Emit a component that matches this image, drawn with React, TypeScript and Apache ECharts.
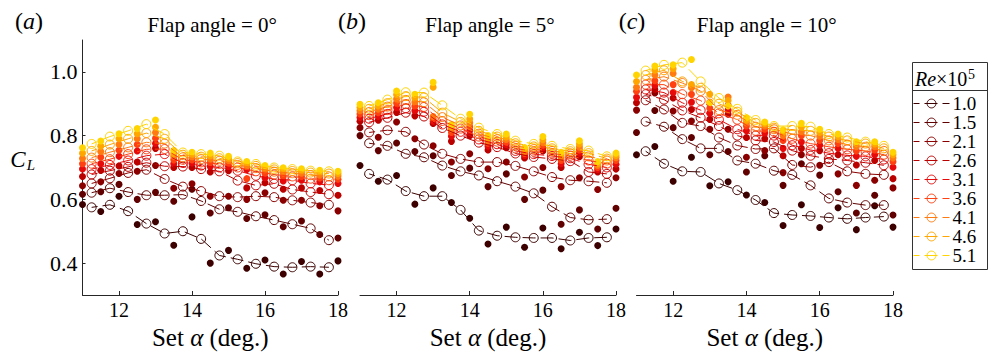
import React, { useEffect, useRef } from 'react';
import * as echarts from 'echarts';

const ALPHA_FILLED = [11, 11.5, 12, 12.5, 13, 13.5, 14, 14.5, 15, 15.5, 16, 16.5, 17, 17.5, 18];
const ALPHA_OPEN = [11.25, 11.75, 12.25, 12.75, 13.25, 13.75, 14.25, 14.75, 15.25, 15.75, 16.25, 16.75, 17.25, 17.75];
const RE_LABELS = ['1.0', '1.5', '2.1', '2.6', '3.1', '3.6', '4.1', '4.6', '5.1'];
const RE_COLORS = ['#3c0000', '#600000', '#8a0000', '#bb0000', '#e60a0a', '#ff4010', '#ff7a10', '#ffa600', '#ffd400'];
const PANEL_TITLES = ['Flap angle = 0°', 'Flap angle = 5°', 'Flap angle = 10°'];
const PANEL_TAGS = ['a', 'b', 'c'];
const X_TICKS = [12, 14, 16, 18];
const Y_TICKS = [0.4, 0.6, 0.8, 1.0];

// Panel (a) flap 0°, filled markers
const A_F_10 = [0.584, 0.562, 0.610, 0.521, 0.530, 0.456, 0.545, 0.400, 0.440, 0.384, 0.410, 0.366, 0.405, 0.366, 0.407];
const A_F_15 = [0.616, 0.624, 0.647, 0.600, 0.622, 0.594, 0.632, 0.557, 0.574, 0.540, 0.552, 0.514, 0.532, 0.490, 0.479];
const A_F_21 = [0.643, 0.655, 0.681, 0.688, 0.706, 0.635, 0.649, 0.610, 0.610, 0.600, 0.621, 0.597, 0.597, 0.580, 0.564];
const A_F_26 = [0.672, 0.691, 0.705, 0.717, 0.760, 0.700, 0.700, 0.686, 0.690, 0.636, 0.652, 0.632, 0.636, 0.628, 0.613];
const A_F_31 = [0.695, 0.712, 0.735, 0.752, 0.775, 0.712, 0.714, 0.703, 0.703, 0.694, 0.668, 0.658, 0.660, 0.655, 0.650];
const A_F_36 = [0.712, 0.732, 0.754, 0.772, 0.792, 0.724, 0.724, 0.715, 0.714, 0.665, 0.682, 0.672, 0.672, 0.667, 0.663];
const A_F_41 = [0.728, 0.750, 0.772, 0.790, 0.810, 0.735, 0.733, 0.726, 0.722, 0.703, 0.692, 0.683, 0.682, 0.676, 0.673];
const A_F_46 = [0.745, 0.767, 0.790, 0.806, 0.826, 0.744, 0.741, 0.736, 0.729, 0.712, 0.700, 0.692, 0.690, 0.684, 0.681];
const A_F_51 = [0.762, 0.783, 0.806, 0.822, 0.849, 0.753, 0.748, 0.745, 0.735, 0.719, 0.706, 0.699, 0.696, 0.691, 0.688];
// Panel (a) open markers
const A_O_10 = [0.575, 0.583, 0.563, 0.524, 0.493, 0.500, 0.476, 0.424, 0.412, 0.398, 0.389, 0.387, 0.389, 0.387];
const A_O_15 = [0.621, 0.635, 0.623, 0.613, 0.613, 0.615, 0.595, 0.569, 0.561, 0.547, 0.535, 0.522, 0.509, 0.472];
const A_O_21 = [0.650, 0.666, 0.683, 0.693, 0.664, 0.640, 0.626, 0.610, 0.607, 0.610, 0.607, 0.597, 0.590, 0.583];
const A_O_26 = [0.678, 0.690, 0.702, 0.715, 0.704, 0.703, 0.695, 0.688, 0.659, 0.644, 0.649, 0.631, 0.623, 0.616];
const A_O_31 = [0.695, 0.708, 0.722, 0.737, 0.742, 0.714, 0.706, 0.700, 0.690, 0.674, 0.664, 0.660, 0.650, 0.645];
const A_O_36 = [0.712, 0.726, 0.742, 0.757, 0.758, 0.724, 0.716, 0.711, 0.700, 0.688, 0.678, 0.672, 0.665, 0.660];
const A_O_41 = [0.731, 0.748, 0.763, 0.779, 0.775, 0.732, 0.726, 0.721, 0.708, 0.698, 0.687, 0.682, 0.676, 0.672];
const A_O_46 = [0.752, 0.772, 0.790, 0.808, 0.790, 0.740, 0.734, 0.729, 0.714, 0.705, 0.694, 0.689, 0.684, 0.681];
const A_O_51 = [0.774, 0.797, 0.815, 0.836, 0.805, 0.747, 0.742, 0.737, 0.719, 0.711, 0.700, 0.695, 0.690, 0.688];

// Panel (b) flap 5°, filled markers
const B_F_10 = [0.706, 0.657, 0.675, 0.585, 0.636, 0.590, 0.541, 0.460, 0.513, 0.450, 0.510, 0.445, 0.497, 0.455, 0.507];
const B_F_15 = [0.800, 0.753, 0.777, 0.750, 0.737, 0.675, 0.698, 0.640, 0.680, 0.600, 0.629, 0.522, 0.567, 0.507, 0.572];
const B_F_21 = [0.825, 0.795, 0.843, 0.790, 0.768, 0.717, 0.743, 0.696, 0.717, 0.670, 0.700, 0.640, 0.668, 0.631, 0.668];
const B_F_26 = [0.845, 0.848, 0.873, 0.862, 0.838, 0.782, 0.800, 0.755, 0.762, 0.730, 0.752, 0.700, 0.734, 0.686, 0.695];
const B_F_31 = [0.857, 0.860, 0.888, 0.878, 0.845, 0.798, 0.815, 0.767, 0.772, 0.738, 0.762, 0.712, 0.745, 0.694, 0.710];
const B_F_36 = [0.868, 0.872, 0.902, 0.892, 0.852, 0.810, 0.828, 0.776, 0.780, 0.744, 0.770, 0.722, 0.755, 0.700, 0.722];
const B_F_41 = [0.878, 0.883, 0.915, 0.905, 0.860, 0.820, 0.840, 0.785, 0.788, 0.750, 0.778, 0.731, 0.764, 0.706, 0.731];
const B_F_46 = [0.888, 0.893, 0.928, 0.918, 0.952, 0.828, 0.852, 0.793, 0.796, 0.756, 0.787, 0.740, 0.774, 0.712, 0.738];
const B_F_51 = [0.898, 0.903, 0.940, 0.930, 0.967, 0.835, 0.867, 0.800, 0.805, 0.763, 0.797, 0.748, 0.784, 0.719, 0.745];
// Panel (b) open markers
const B_O_10 = [0.680, 0.662, 0.626, 0.610, 0.610, 0.567, 0.502, 0.486, 0.481, 0.479, 0.479, 0.471, 0.479, 0.481];
const B_O_15 = [0.776, 0.768, 0.743, 0.732, 0.706, 0.688, 0.675, 0.657, 0.640, 0.619, 0.577, 0.543, 0.536, 0.538];
const B_O_21 = [0.810, 0.817, 0.812, 0.772, 0.743, 0.727, 0.717, 0.717, 0.705, 0.688, 0.670, 0.660, 0.657, 0.652];
const B_O_26 = [0.842, 0.856, 0.872, 0.860, 0.824, 0.800, 0.778, 0.764, 0.744, 0.733, 0.727, 0.720, 0.686, 0.680];
const B_O_31 = [0.853, 0.868, 0.886, 0.875, 0.835, 0.812, 0.788, 0.773, 0.752, 0.742, 0.736, 0.729, 0.710, 0.700];
const B_O_36 = [0.864, 0.880, 0.899, 0.890, 0.846, 0.822, 0.797, 0.781, 0.760, 0.750, 0.744, 0.737, 0.722, 0.712];
const B_O_41 = [0.874, 0.891, 0.912, 0.905, 0.858, 0.832, 0.806, 0.789, 0.768, 0.758, 0.752, 0.744, 0.735, 0.722];
const B_O_46 = [0.884, 0.902, 0.924, 0.920, 0.872, 0.843, 0.815, 0.797, 0.776, 0.766, 0.760, 0.751, 0.745, 0.728];
const B_O_51 = [0.893, 0.913, 0.936, 0.935, 0.895, 0.853, 0.825, 0.805, 0.784, 0.774, 0.768, 0.758, 0.753, 0.735];

// Panel (c) flap 10°, filled markers
const C_F_10 = [0.740, 0.766, 0.657, 0.732, 0.643, 0.655, 0.614, 0.590, 0.518, 0.583, 0.512, 0.574, 0.505, 0.580, 0.513];
const C_F_15 = [0.810, 0.879, 0.825, 0.794, 0.740, 0.750, 0.686, 0.737, 0.644, 0.712, 0.676, 0.624, 0.557, 0.613, 0.551];
const C_F_21 = [0.880, 0.934, 0.877, 0.846, 0.820, 0.820, 0.732, 0.753, 0.684, 0.740, 0.707, 0.680, 0.644, 0.660, 0.636];
const C_F_26 = [0.903, 0.945, 0.918, 0.882, 0.851, 0.867, 0.794, 0.790, 0.737, 0.760, 0.753, 0.740, 0.708, 0.722, 0.665];
const C_F_31 = [0.920, 0.958, 0.935, 0.905, 0.870, 0.880, 0.815, 0.808, 0.760, 0.780, 0.770, 0.760, 0.735, 0.740, 0.701];
const C_F_36 = [0.939, 0.972, 0.960, 0.930, 0.886, 0.895, 0.830, 0.820, 0.785, 0.800, 0.785, 0.775, 0.752, 0.755, 0.718];
const C_F_41 = [0.952, 0.990, 0.995, 0.950, 0.905, 0.921, 0.840, 0.830, 0.800, 0.812, 0.798, 0.788, 0.765, 0.765, 0.730];
const C_F_46 = [0.970, 1.005, 1.010, 0.960, 0.930, 0.910, 0.848, 0.837, 0.810, 0.826, 0.810, 0.797, 0.775, 0.774, 0.740];
const C_F_51 = [0.990, 1.018, 1.022, 1.039, 0.903, 0.893, 0.856, 0.843, 0.818, 0.839, 0.820, 0.805, 0.781, 0.781, 0.748];
// Panel (c) open markers
const C_O_10 = [0.751, 0.712, 0.688, 0.686, 0.650, 0.629, 0.598, 0.557, 0.551, 0.548, 0.543, 0.539, 0.543, 0.546];
const C_O_15 = [0.844, 0.828, 0.789, 0.760, 0.760, 0.722, 0.712, 0.690, 0.677, 0.644, 0.603, 0.590, 0.582, 0.582];
const C_O_21 = [0.911, 0.882, 0.840, 0.830, 0.794, 0.769, 0.758, 0.760, 0.708, 0.701, 0.717, 0.688, 0.680, 0.677];
const C_O_26 = [0.930, 0.913, 0.879, 0.856, 0.830, 0.800, 0.785, 0.780, 0.753, 0.737, 0.727, 0.722, 0.715, 0.707];
const C_O_31 = [0.945, 0.935, 0.903, 0.880, 0.850, 0.820, 0.800, 0.800, 0.770, 0.755, 0.745, 0.738, 0.735, 0.725];
const C_O_36 = [0.960, 0.960, 0.930, 0.910, 0.870, 0.850, 0.815, 0.812, 0.790, 0.775, 0.765, 0.757, 0.752, 0.740];
const C_O_41 = [0.975, 0.985, 0.965, 0.940, 0.880, 0.865, 0.828, 0.820, 0.805, 0.800, 0.785, 0.772, 0.765, 0.752];
const C_O_46 = [0.990, 1.005, 0.970, 0.950, 0.900, 0.875, 0.840, 0.825, 0.818, 0.815, 0.797, 0.785, 0.775, 0.760];
const C_O_51 = [1.004, 1.022, 1.029, 0.970, 0.918, 0.884, 0.849, 0.830, 0.830, 0.828, 0.805, 0.794, 0.781, 0.768];

const PANEL_FILLED = [
  [A_F_10, A_F_15, A_F_21, A_F_26, A_F_31, A_F_36, A_F_41, A_F_46, A_F_51],
  [B_F_10, B_F_15, B_F_21, B_F_26, B_F_31, B_F_36, B_F_41, B_F_46, B_F_51],
  [C_F_10, C_F_15, C_F_21, C_F_26, C_F_31, C_F_36, C_F_41, C_F_46, C_F_51],
];
const PANEL_OPEN = [
  [A_O_10, A_O_15, A_O_21, A_O_26, A_O_31, A_O_36, A_O_41, A_O_46, A_O_51],
  [B_O_10, B_O_15, B_O_21, B_O_26, B_O_31, B_O_36, B_O_41, B_O_46, B_O_51],
  [C_O_10, C_O_15, C_O_21, C_O_26, C_O_31, C_O_36, C_O_41, C_O_46, C_O_51],
];

const FONT = "'Liberation Serif', 'Times New Roman', 'DejaVu Serif', serif";
const AXIS_COLOR = '#262626';
const GRIDS = [
  { left: 82.5, top: 40, width: 255.5, height: 256 },
  { left: 360, top: 40, width: 256, height: 256 },
  { left: 636.5, top: 40, width: 256.5, height: 256 },
];

function buildOption() {
  const series: any[] = [];
  for (let p = 0; p < 3; p++) {
    RE_LABELS.forEach((re, ri) => {
      const c = RE_COLORS[ri];
      series.push({
        type: 'line',
        name: re,
        xAxisIndex: p,
        yAxisIndex: p,
        data: ALPHA_OPEN.map((x, k) => [x, PANEL_OPEN[p][ri][k]]),
        symbol: 'circle',
        symbolSize: 9,
        showSymbol: true,
        lineStyle: { color: c, width: 1, type: [13, 5], dashOffset: 6.5 },
        itemStyle: { color: 'rgba(255,255,255,0)', borderColor: c, borderWidth: 1 },
        emphasis: { disabled: true },
        silent: true,
      });
      series.push({
        type: 'scatter',
        name: 'filled ' + re,
        xAxisIndex: p,
        yAxisIndex: p,
        data: ALPHA_FILLED.map((x, k) => [x, PANEL_FILLED[p][ri][k]]),
        symbol: 'circle',
        symbolSize: 7,
        itemStyle: { color: c, opacity: 1 },
        emphasis: { disabled: true },
        silent: true,
      });
    });
  }

  const xAxes = GRIDS.map((_, i) => ({
    type: 'value',
    gridIndex: i,
    min: 11,
    max: 18,
    axisLine: { show: true, lineStyle: { color: AXIS_COLOR, width: 1 } },
    axisTick: { show: true, inside: true, length: 4, customValues: X_TICKS, lineStyle: { color: AXIS_COLOR } },
    axisLabel: {
      customValues: X_TICKS,
      fontFamily: FONT,
      fontSize: 20,
      color: '#000',
      margin: 5,
    },
    splitLine: { show: false },
    name: '{n|Set }{i|α}{n| (deg.)}',
    nameLocation: 'middle',
    nameGap: 30,
    nameTextStyle: {
      rich: {
        n: { fontFamily: FONT, fontSize: 25, color: '#000' },
        i: { fontFamily: FONT, fontSize: 25, fontStyle: 'italic', color: '#000' },
      },
    },
  }));

  const yAxes = GRIDS.map((_, i) => ({
    type: 'value',
    gridIndex: i,
    min: 0.3,
    max: 1.1,
    show: true,
    axisLine: { show: i === 0, lineStyle: { color: AXIS_COLOR, width: 1 } },
    axisTick: { show: i === 0, inside: true, length: 3, customValues: Y_TICKS, lineStyle: { color: AXIS_COLOR } },
    axisLabel: {
      show: i === 0,
      customValues: Y_TICKS,
      formatter: (v: number) => v.toFixed(1),
      fontFamily: FONT,
      fontSize: 22,
      color: '#000',
      margin: 5,
    },
    splitLine: { show: false },
  }));

  const centers = GRIDS.map((g) => g.left + g.width / 2);
  const graphic: any[] = [];
  const tagX = [29, 352, 632];
  PANEL_TAGS.forEach((t, i) => {
    graphic.push({
      type: 'text',
      x: tagX[i],
      y: 21,
      style: {
        text: '{n|(}{i|' + t + '}{n|)}',
        textAlign: 'center', align: 'center',
        textVerticalAlign: 'middle', verticalAlign: 'middle',
        rich: {
          n: { fontFamily: FONT, fontSize: 24, fill: '#000', color: '#000' },
          i: { fontFamily: FONT, fontSize: 24, fontStyle: 'italic', fill: '#000', color: '#000' },
        },
      },
    });
  });
  PANEL_TITLES.forEach((t, i) => {
    graphic.push({
      type: 'text',
      x: centers[i] + 2,
      y: 25,
      style: {
        text: t,
        fontFamily: FONT,
        fontSize: 21,
        fill: '#000',
        textAlign: 'center', align: 'center',
        textVerticalAlign: 'middle', verticalAlign: 'middle',
      },
    });
  });
  // y-axis title C_L
  graphic.push({
    type: 'text', x: 18, y: 159,
    style: { text: 'C', fontFamily: FONT, fontSize: 23, fontStyle: 'italic', fill: '#000',
      textAlign: 'center', align: 'center', textVerticalAlign: 'middle', verticalAlign: 'middle' },
  });
  graphic.push({
    type: 'text', x: 31, y: 165,
    style: { text: 'L', fontFamily: FONT, fontSize: 15, fontStyle: 'italic', fill: '#000',
      textAlign: 'center', align: 'center', textVerticalAlign: 'middle', verticalAlign: 'middle' },
  });
  // legend frame and header
  graphic.push({
    type: 'rect',
    shape: { x: 912.5, y: 62.5, width: 75, height: 207 },
    style: { fill: 'none', stroke: '#333', lineWidth: 1 },
  });
  graphic.push({
    type: 'line',
    shape: { x1: 912.5, y1: 90.5, x2: 987.5, y2: 90.5 },
    style: { stroke: '#333', lineWidth: 1 },
  });
  graphic.push({
    type: 'text', x: 915, y: 78.5,
    style: {
      text: '{i|Re}{n|×10}',
      textAlign: 'left', align: 'left', textVerticalAlign: 'middle', verticalAlign: 'middle',
      rich: {
        i: { fontFamily: FONT, fontSize: 20, fontStyle: 'italic', fill: '#000', color: '#000' },
        n: { fontFamily: FONT, fontSize: 20, fill: '#000', color: '#000' },
      },
    },
  });
  graphic.push({
    type: 'text', x: 968, y: 74,
    style: { text: '5', fontFamily: FONT, fontSize: 14, fill: '#000',
      textAlign: 'left', align: 'left', textVerticalAlign: 'middle', verticalAlign: 'middle' },
  });

  return {
    animation: false,
    backgroundColor: '#fff',
    grid: GRIDS.map((g) => ({ ...g, containLabel: false })),
    xAxis: xAxes,
    yAxis: yAxes,
    legend: {
      data: RE_LABELS,
      orient: 'vertical',
      left: 913,
      top: 94,
      padding: 0,
      itemWidth: 36,
      itemHeight: 11,
      itemGap: 0,
      selectedMode: false,
      itemStyle: { borderWidth: 1 },
      lineStyle: { width: 1 },
      textStyle: { fontFamily: FONT, fontSize: 19, color: '#000', lineHeight: 19, padding: [0, 0, 0, -2] },
    },
    graphic,
    series,
  };
}

export default function App() {
  const ref = useRef<HTMLDivElement>(null);
  useEffect(() => {
    if (!ref.current) return;
    const chart = echarts.init(ref.current, null, { renderer: 'svg' });
    chart.setOption(buildOption() as any);
    return () => chart.dispose();
  }, []);
  return (
    <div
      ref={ref}
      style={{ position: 'fixed', left: 0, top: 0, width: 989, height: 355, background: '#fff' }}
    />
  );
}
